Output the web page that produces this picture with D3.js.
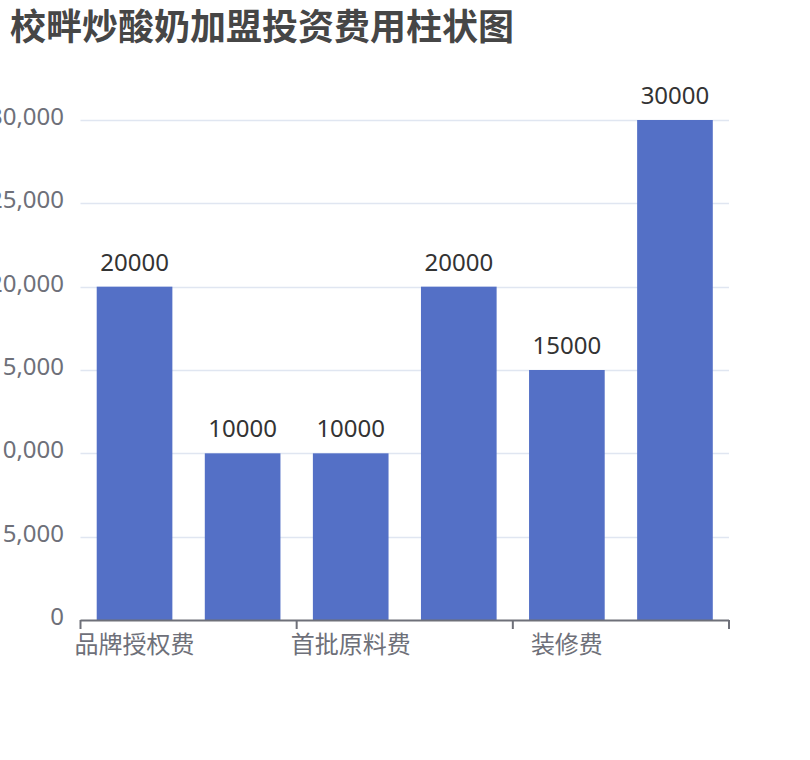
<!DOCTYPE html>
<html>
<head>
<meta charset="utf-8">
<script src="https://cdn.jsdelivr.net/npm/d3@7/dist/d3.min.js"></script>
<style>
  html, body { margin: 0; padding: 0; background: #fff; }
  svg { display: block; font-family: "Noto Sans", "Noto Sans CJK SC", sans-serif; }
</style>
</head>
<body>
<svg id="chart" width="810" height="760"></svg>
<script>
const title = "校畔炒酸奶加盟投资费用柱状图";
const categories = ["品牌授权费", "设备费", "首批原料费", "店面租金", "装修费", "流动资金"];
const values = [20000, 10000, 10000, 20000, 15000, 30000];
const yTicks = [0, 5000, 10000, 15000, 20000, 25000, 30000];
const yMax = 30000;

const svg = d3.select("#chart");
const gLeft = 80.5, gRight = 729, gTop = 120, gBottom = 620;

const x = d3.scaleBand().domain(categories).range([gLeft, gRight]).padding(0);
const y = d3.scaleLinear().domain([0, yMax]).range([gBottom, gTop]);

// title
svg.append("text")
  .attr("x", 10).attr("y", 40)
  .attr("font-size", 36).attr("font-weight", "bold")
  .attr("fill", "#464646")
  .text(title);

// grid lines
svg.append("g").selectAll("line")
  .data(yTicks.filter(d => d !== 0))
  .join("line")
  .attr("x1", gLeft).attr("x2", gRight)
  .attr("y1", d => Math.round(y(d)) + 0.5).attr("y2", d => Math.round(y(d)) + 0.5)
  .attr("stroke", "#e0e6f1").attr("stroke-width", 1.5);

// y labels
const fmt = d3.format(",");
svg.append("g").selectAll("text")
  .data(yTicks)
  .join("text")
  .attr("x", 64).attr("y", d => y(d) + 5)
  .attr("text-anchor", "end")
  .attr("font-size", 24).attr("fill", "#6e7079")
  .text(d => fmt(d));

// bars
const bw = x.bandwidth() * 0.7;
const off = (x.bandwidth() - bw) / 2;
svg.append("g").selectAll("rect")
  .data(values)
  .join("rect")
  .attr("x", (d, i) => x(categories[i]) + off)
  .attr("y", d => y(d))
  .attr("width", bw)
  .attr("height", d => y(0) - y(d))
  .attr("fill", "#5470c6");

// bar labels
svg.append("g").selectAll("text")
  .data(values)
  .join("text")
  .attr("x", (d, i) => x(categories[i]) + x.bandwidth() / 2)
  .attr("y", d => y(d) - 16)
  .attr("text-anchor", "middle")
  .attr("font-size", 24).attr("fill", "#333")
  .text(d => d);

// x axis line
svg.append("line")
  .attr("x1", gLeft).attr("x2", gRight)
  .attr("y1", gBottom + 0.5).attr("y2", gBottom + 0.5)
  .attr("stroke", "#6e7079").attr("stroke-width", 2);

// ticks (every other category boundary)
const tickPos = categories.map((c, i) => i).filter(i => i % 2 === 0).map(i => x(categories[i]));
tickPos.push(gRight);
svg.append("g").selectAll("line")
  .data(tickPos)
  .join("line")
  .attr("x1", d => d).attr("x2", d => d)
  .attr("y1", gBottom).attr("y2", gBottom + 9)
  .attr("stroke", "#6e7079").attr("stroke-width", 2);

// x labels (interval: every other)
svg.append("g").selectAll("text")
  .data(categories.filter((c, i) => i % 2 === 0))
  .join("text")
  .attr("x", d => x(d) + x.bandwidth() / 2)
  .attr("y", 653)
  .attr("text-anchor", "middle")
  .attr("font-size", 24).attr("fill", "#6e7079")
  .text(d => d);
</script>
</body>
</html>
